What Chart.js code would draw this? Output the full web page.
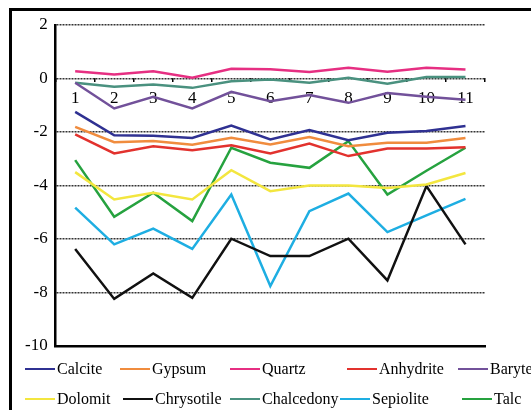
<!DOCTYPE html>
<html>
<head>
<meta charset="utf-8">
<script src="https://cdn.jsdelivr.net/npm/chart.js@4/dist/chart.umd.min.js"></script>
<style>
  html, body { margin: 0; padding: 0; background: #fff; overflow: hidden; }
  #wrap { position: relative; width: 531px; height: 410px; }
  #frame {
    position: absolute; left: 9px; top: 8px; width: 600px; height: 600px;
    border: 3px solid #000; box-sizing: border-box;
  }
  #c { position: absolute; left: 0; top: 0; }
</style>
</head>
<body>
<div id="wrap">
  <div id="frame"></div>
  <canvas id="c" width="531" height="410"></canvas>
</div>
<script>
// Sample numbers along the category axis
const categories = ['1', '2', '3', '4', '5', '6', '7', '8', '9', '10', '11'];

// Value-axis ticks
const yTicks = [2, 0, -2, -4, -6, -8, -10];

// Mineral names, in legend order
const mineralNames = ['Calcite', 'Gypsum', 'Quartz', 'Anhydrite', 'Baryte',
                      'Dolomit', 'Chrysotile', 'Chalcedony', 'Sepiolite', 'Talc'];

// One series per mineral
const calcite    = [-1.25, -2.12, -2.14, -2.22, -1.76, -2.28, -1.93, -2.31, -2.03, -1.96, -1.78];
const gypsum     = [-1.81, -2.38, -2.34, -2.48, -2.22, -2.47, -2.19, -2.53, -2.40, -2.40, -2.22];
const quartz     = [0.27, 0.15, 0.27, 0.03, 0.36, 0.35, 0.24, 0.40, 0.25, 0.40, 0.34];
const anhydrite  = [-2.09, -2.80, -2.53, -2.68, -2.50, -2.80, -2.43, -2.90, -2.62, -2.62, -2.57];
const baryte     = [-0.16, -1.12, -0.68, -1.12, -0.50, -0.85, -0.62, -0.91, -0.54, -0.68, -0.79];
const dolomit    = [-3.50, -4.52, -4.27, -4.52, -3.43, -4.21, -4.00, -4.00, -4.09, -3.96, -3.53];
const chrysotile = [-6.37, -8.24, -7.29, -8.20, -5.99, -6.64, -6.64, -5.99, -7.55, -4.02, -6.20];
const chalcedony = [-0.16, -0.31, -0.22, -0.35, -0.10, -0.04, -0.16, 0.03, -0.20, 0.06, 0.06];
const sepiolite  = [-4.83, -6.20, -5.61, -6.37, -4.34, -7.76, -4.96, -4.30, -5.74, -5.12, -4.50];
const talc       = [-3.05, -5.17, -4.27, -5.33, -2.59, -3.15, -3.34, -2.34, -4.34, -3.45, -2.59];

const seriesValues = [calcite, gypsum, quartz, anhydrite, baryte,
                      dolomit, chrysotile, chalcedony, sepiolite, talc];

const seriesColors = ['#2f3192', '#f08c3e', '#e62f82', '#e2322e', '#72519a',
                      '#f3e63f', '#111111', '#4a917f', '#1eaee2', '#26a23f'];

const SERIF = "'Liberation Serif', 'Times New Roman', serif";

// Two-row legend laid out in fixed columns under the plot
const gridLegend = {
  id: 'gridLegend',
  afterDraw(chart) {
    const ctx = chart.ctx;
    const rows = [369, 399];
    const cols = [
      [25, 120, 230, 347, 458],
      [25, 123, 230, 340, 462]
    ];
    const lineLen = 30;
    ctx.save();
    ctx.font = '16px ' + SERIF;
    ctx.textBaseline = 'middle';
    ctx.textAlign = 'left';
    chart.data.datasets.forEach((ds, i) => {
      const r = Math.floor(i / 5), c = i % 5;
      const x = cols[r][c], y = rows[r];
      ctx.strokeStyle = ds.borderColor;
      ctx.lineWidth = 2;
      ctx.beginPath();
      ctx.moveTo(x, y);
      ctx.lineTo(x + lineLen, y);
      ctx.stroke();
      ctx.fillStyle = '#000';
      ctx.fillText(ds.label, x + lineLen + 2, y + 1);
    });
    ctx.restore();
  }
};

new Chart(document.getElementById('c'), {
  type: 'line',
  data: {
    labels: categories,
    datasets: mineralNames.map((name, i) => ({
      label: name,
      data: seriesValues[i],
      borderColor: seriesColors[i],
      backgroundColor: seriesColors[i],
      borderWidth: 2.5,
      pointRadius: 0,
      tension: 0,
      fill: false,
      xAxisID: 'x'
    }))
  },
  options: {
    responsive: false,
    animation: false,
    layout: { padding: { left: 17, right: 46, top: 25, bottom: 64 } },
    plugins: {
      legend: { display: false },
      tooltip: { enabled: false }
    },
    scales: {
      x: {
        type: 'category',
        position: { y: 0 },
        offset: true,
        border: { display: false },
        grid: {
          offset: true,
          drawOnChartArea: false,
          drawTicks: true,
          tickLength: 4,
          color: '#000',
          lineWidth: 1.5
        },
        ticks: {
          color: '#000',
          font: { family: SERIF, size: 17 },
          padding: 6,
          maxRotation: 0,
          autoSkip: false
        }
      },
      xBase: {
        type: 'category',
        position: 'bottom',
        offset: true,
        border: { display: true, color: '#000', width: 2.5 },
        grid: { display: false, drawTicks: false },
        ticks: { display: false }
      },
      y: {
        min: -10,
        max: 2,
        afterBuildTicks(scale) {
          scale.ticks = yTicks.map(v => ({ value: v }));
        },
        border: { display: true, color: '#000', width: 2.5, dash: [2, 1] },
        grid: {
          drawTicks: false,
          color: ctx => (ctx.tick && ctx.tick.value === -10) ? 'rgba(0,0,0,0)' : '#333',
          lineWidth: 1.5
        },
        ticks: {
          color: '#000',
          font: { family: SERIF, size: 17 },
          padding: 8
        }
      }
    }
  },
  plugins: [gridLegend]
});
</script>
</body>
</html>
